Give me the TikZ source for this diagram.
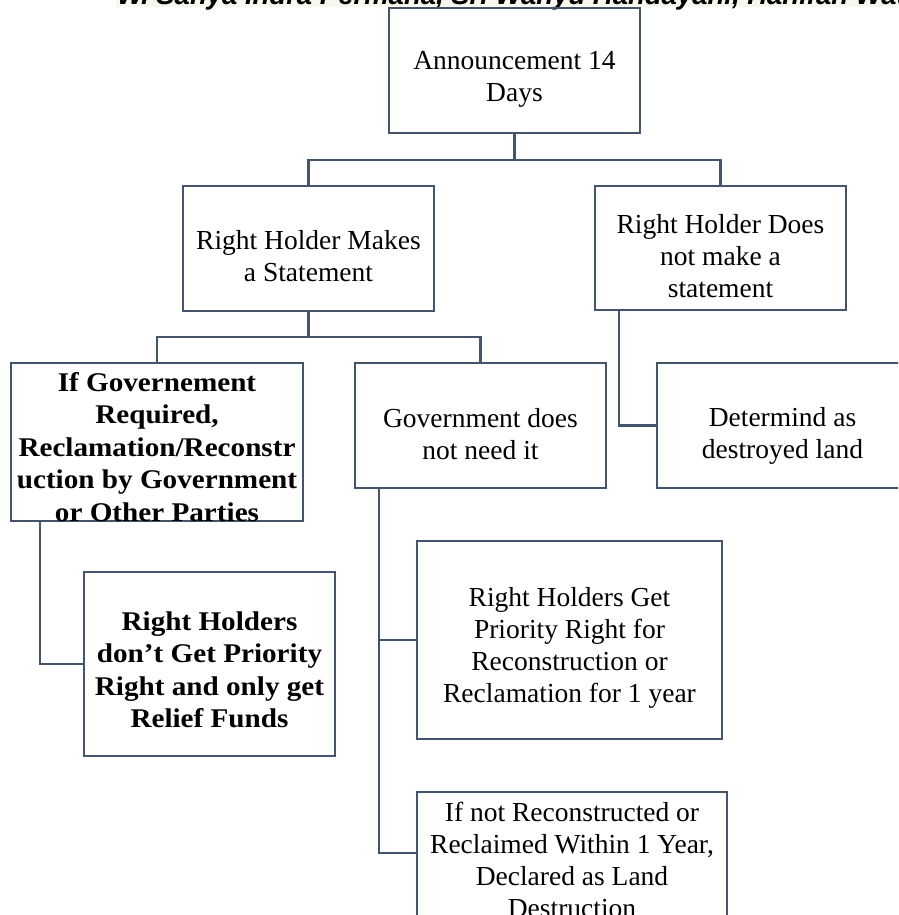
\documentclass[tikz,border=0pt]{standalone}
\usepackage{fontspec}
\setmainfont{Liberation Serif}
\newfontfamily\hdrfont{Liberation Sans}
\newfontfamily\boldwide[FakeStretch=1.08]{Liberation Serif}
\definecolor{boxc}{RGB}{68,84,106}
\definecolor{hdrbg}{RGB}{247,247,238}
\begin{document}
\begin{tikzpicture}[x=1pt,y=-1pt,
  fbox/.style={draw=boxc, line width=2.3pt, rectangle, inner sep=0pt},
  txt/.style={inner sep=0pt, align=center, text=black, font=\fontsize{27.5}{32}\selectfont},
  btxt/.style={txt, font=\boldwide\fontsize{27}{32.5}\selectfont\bfseries},
  conn/.style={draw=boxc, line width=2.3pt}]
\useasboundingbox (0,0) rectangle (898,915);
\clip (0,0) rectangle (898,915);
% clipped header strip
\fill[hdrbg] (116,0) rectangle (898,7);
\node[anchor=base west, inner sep=0pt, font=\hdrfont\bfseries\itshape\fontsize{27.5}{30}\selectfont] (hdr) at (117,5)
  {W. Sanya Indra Permana, Sri Wahyu Handayani, Hanifah Wati};
% boxes
\node[fbox, minimum width=251pt, minimum height=125pt] (ann) at (514.5,70.5) {};
\node[txt] (annt) at (514.5,79.5) {Announcement 14\\Days};
\node[fbox, minimum width=251pt, minimum height=125pt] (rhm) at (308.5,248.5) {};
\node[txt] (rhmt) at (308.5,256.5) {Right Holder Makes\\a Statement};
\node[fbox, minimum width=251pt, minimum height=124pt] (rhd) at (720.5,248) {};
\node[txt] (rhdt) at (720.5,256.5) {Right Holder Does\\not make a\\statement};
\node[fbox, minimum width=292pt, minimum height=158pt] (ifgov) at (157,442) {};
\node[btxt] (ifgovt) at (157,447)
  {If Governement\\Required,\\Reclamation/Reconstr\\uction by Government\\or Other Parties};
\node[fbox, minimum width=251pt, minimum height=125pt] (gov) at (480.5,425.5) {};
\node[txt] (govt) at (480.5,434) {Government does\\not need it};
\node[fbox, minimum width=251pt, minimum height=125pt] (det) at (782.5,425.5) {};
\node[txt] (dett) at (782.5,436) {Determind as\\destroyed land};
\node[fbox, minimum width=251pt, minimum height=184pt] (rhdont) at (209.5,664) {};
\node[btxt] (rhdontt) at (209.5,670) {Right Holders\\don’t Get Priority\\Right and only get\\Relief Funds};
\node[fbox, minimum width=305pt, minimum height=198pt] (rhg) at (569.5,640) {};
\node[txt] (rhgt) at (569.5,648) {Right Holders Get\\Priority Right for\\Reconstruction or\\Reclamation for 1 year};
\node[fbox, minimum width=310pt, minimum height=138pt] (ifnot) at (572,861) {};
\node[txt] (ifnott) at (572,860) {If not Reconstructed or\\Reclaimed Within 1 Year,\\Declared as Land\\Destruction};
% connectors
\draw[conn] (ann.south) -- ++(0,26) -| (rhm.north);
\draw[conn] (ann.south) -- ++(0,26) -| (rhd.north);
\draw[conn] (rhm.south) -- ++(0,25) -| (ifgov.north);
\draw[conn] (rhm.south) -- ++(0,25) -| (gov.north);
\draw[conn] ([xshift=30pt]ifgov.south west) |- (rhdont.west);
\draw[conn] ([xshift=25pt]gov.south west) |- (rhg.west);
\draw[conn] ([xshift=25pt]gov.south west) |- ([yshift=8pt]ifnot.west);
\draw[conn] ([xshift=25pt]rhd.south west) |- (det.west);
\end{tikzpicture}
\end{document}
